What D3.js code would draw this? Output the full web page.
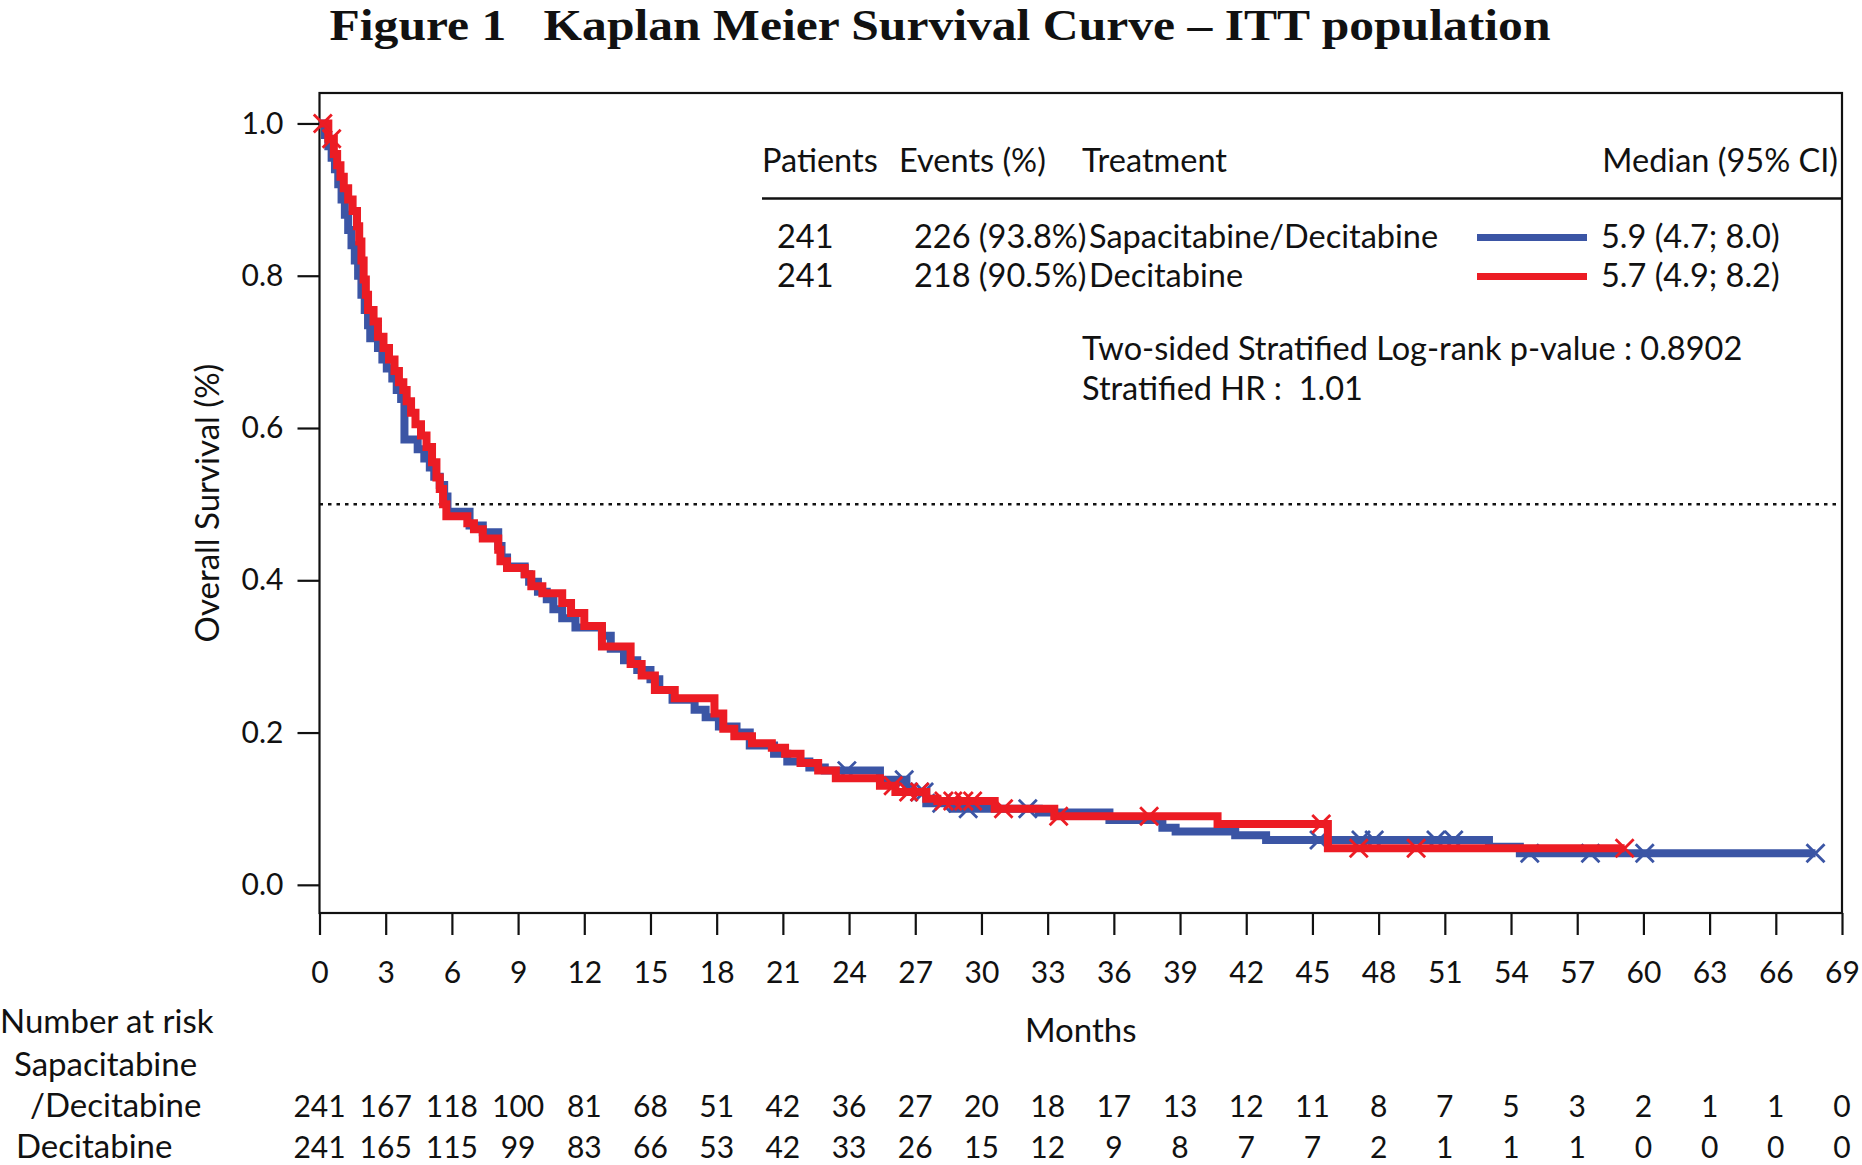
<!DOCTYPE html>
<html>
<head>
<meta charset="utf-8">
<script src="https://cdn.jsdelivr.net/npm/d3@7"></script>
<style>
  html, body { margin: 0; padding: 0; background: #ffffff; }
  svg { display: block; }
  text { font-family: Lato, "Open Sans", sans-serif; fill: #111; }
</style>
</head>
<body>
<div id="chart"></div>
<script>
// ---------------- data ----------------
const xTicks = [0,3,6,9,12,15,18,21,24,27,30,33,36,39,42,45,48,51,54,57,60,63,66,69];
const yTicks = [0, 0.2, 0.4, 0.6, 0.8, 1.0];

// Sapacitabine/Decitabine (blue) KM steps: time (months), survival
const blueTimes = [0,0.25,0.4,0.55,0.7,0.85,1.0,1.15,1.3,1.45,1.6,1.75,1.9,2.05,2.2,2.3,2.65,2.85,3.05,3.3,3.5,3.7,3.85,4.45,4.75,5.0,5.2,5.45,5.65,5.8,6.8,7.4,8.1,8.25,8.5,9.3,9.5,9.9,10.3,10.6,11.0,11.6,12.8,13.2,13.8,14.4,15.0,15.4,16.0,17.0,17.5,18.1,18.9,19.5,20.6,21.2,22.2,22.9,25.4,26.6,27.5,28.7,32.6,35.8,38.2,38.8,41.5,42.9,53.0,54.4];
const blueSurv  = [1.0,0.985,0.97,0.955,0.94,0.92,0.9,0.88,0.86,0.84,0.82,0.80,0.775,0.755,0.735,0.718,0.705,0.69,0.678,0.665,0.65,0.638,0.585,0.572,0.56,0.548,0.536,0.525,0.51,0.49,0.472,0.463,0.445,0.43,0.418,0.408,0.398,0.385,0.375,0.362,0.35,0.338,0.327,0.31,0.295,0.282,0.27,0.256,0.243,0.23,0.22,0.208,0.2,0.183,0.172,0.162,0.154,0.15,0.138,0.122,0.107,0.1,0.095,0.085,0.075,0.07,0.065,0.059,0.05,0.0415];
const blueLast = 67.8;
const blueCensor = [23.9,26.5,27.2,27.4,28.2,29.4,32.1,45.3,47.2,47.8,50.6,51.4,54.85,57.6,60.06,67.8];

// Decitabine (red) KM steps
const redTimes = [0,0.4,0.65,0.8,0.95,1.1,1.3,1.5,1.7,1.8,1.9,2.0,2.1,2.2,2.45,2.65,2.9,3.15,3.4,3.6,3.8,3.95,4.15,4.35,4.6,4.85,5.1,5.3,5.45,5.6,5.75,6.7,7.0,7.4,8.1,8.2,8.5,9.3,9.6,10.1,11.0,11.4,12.0,12.8,14.1,14.6,15.2,16.1,17.9,18.3,18.8,19.6,20.5,21.1,21.8,22.6,23.4,25.4,26.1,27.5,28.0,30.6,33.3,40.7,45.7];
const redSurv  = [1.0,0.98,0.96,0.945,0.93,0.915,0.9,0.885,0.865,0.845,0.82,0.795,0.775,0.755,0.74,0.72,0.705,0.69,0.675,0.66,0.65,0.635,0.62,0.605,0.59,0.575,0.555,0.535,0.52,0.5,0.484,0.475,0.467,0.455,0.44,0.425,0.416,0.408,0.392,0.383,0.37,0.357,0.34,0.313,0.29,0.275,0.256,0.245,0.225,0.205,0.195,0.186,0.18,0.172,0.16,0.15,0.14,0.13,0.122,0.113,0.11,0.1,0.09,0.08,0.048];
const redLast = 59.15;
const redCensor = [0.15,0.55,26.0,26.7,27.2,28.3,28.7,29.2,29.6,31.0,33.5,37.6,45.4,47.1,49.7,59.15];

// Number at risk
const riskSapDec = [241,167,118,100,81,68,51,42,36,27,20,18,17,13,12,11,8,7,5,3,2,1,1,0];
const riskDec    = [241,165,115,99,83,66,53,42,33,26,15,12,9,8,7,7,2,1,1,1,0,0,0,0];

// Legend table
const legendHeader = ["Patients", "Events (%)", "Treatment", "Median (95% CI)"];
const legendPatients = ["241", "241"];
const legendEvents = ["226 (93.8%)", "218 (90.5%)"];
const legendTreatment = ["Sapacitabine/Decitabine", "Decitabine"];
const legendMedian = ["5.9 (4.7; 8.0)", "5.7 (4.9; 8.2)"];
const statLines = ["Two-sided Stratified Log-rank p-value : 0.8902", "Stratified HR :  1.01"];

const colors = { blue: "#3b55a5", red: "#ec1c24" };

// ---------------- layout ----------------
const W = 1862, H = 1165;
const plot = { left: 319.5, right: 1842, top: 93, bottom: 913 };
const FN = 30;   // numeric labels
const FT = 33;   // word labels
const FL = 32.5; // legend text

const svg = d3.select("#chart").append("svg").attr("width", W).attr("height", H);

const x = d3.scaleLinear().domain([0, 69]).range([plot.left, plot.right]);
const y = d3.scaleLinear().domain([-0.037, 1.04]).range([plot.bottom, plot.top]);

// title
svg.append("text")
  .attr("x", 940).attr("y", 39.5)
  .attr("text-anchor", "middle")
  .attr("textLength", 1221)
  .attr("lengthAdjust", "spacingAndGlyphs")
  .style("font-family", "'Liberation Serif', 'Times New Roman', serif")
  .style("font-weight", "bold")
  .style("font-size", "44px")
  .style("white-space", "pre")
  .text("Figure 1   Kaplan Meier Survival Curve \u2013 ITT population");

// frame
svg.append("rect")
  .attr("x", plot.left).attr("y", plot.top)
  .attr("width", plot.right - plot.left).attr("height", plot.bottom - plot.top)
  .attr("fill", "none").attr("stroke", "#111").attr("stroke-width", 2.2);

// axes
const xAxis = d3.axisBottom(x).tickValues(xTicks).tickSize(22).tickPadding(12).tickFormat(d3.format("d"));
const gx = svg.append("g").attr("transform", `translate(0,${plot.bottom})`).call(xAxis);
gx.select(".domain").remove();
gx.selectAll(".tick line").attr("stroke", "#111").attr("stroke-width", 2.2);
gx.selectAll(".tick text").style("font-family", "Lato, sans-serif").style("font-size", FN + "px").attr("fill", "#111")
  .attr("dy", null).attr("y", 70);

const yAxis = d3.axisLeft(y).tickValues(yTicks).tickSize(22).tickPadding(14).tickFormat(d3.format(".1f"));
const gy = svg.append("g").attr("transform", `translate(${plot.left},0)`).call(yAxis);
gy.select(".domain").remove();
gy.selectAll(".tick line").attr("stroke", "#111").attr("stroke-width", 2.2);
gy.selectAll(".tick text").style("font-family", "Lato, sans-serif").style("font-size", FN + "px").attr("fill", "#111");

// axis titles
svg.append("text")
  .attr("transform", `translate(219,503) rotate(-90)`)
  .attr("text-anchor", "middle")
  .style("font-size", FT + "px")
  .text("Overall Survival (%)");
svg.append("text")
  .attr("x", (plot.left + plot.right) / 2).attr("y", 1042)
  .attr("text-anchor", "middle")
  .style("font-size", FT + "px")
  .text("Months");

// median reference line
svg.append("line")
  .attr("x1", x(0)).attr("x2", x(69)).attr("y1", y(0.5)).attr("y2", y(0.5))
  .attr("stroke", "#111").attr("stroke-width", 2.5).attr("stroke-dasharray", "3.5,5");

// KM curves
function stepPoints(times, surv, last) {
  const pts = times.map((t, i) => [t, surv[i]]);
  pts.push([last, surv[surv.length - 1]]);
  return pts;
}
function survAt(times, surv, t) {
  let v = surv[0];
  for (let i = 0; i < times.length; i++) { if (times[i] <= t) v = surv[i]; else break; }
  return v;
}
const line = d3.line().x(d => x(d[0])).y(d => y(d[1])).curve(d3.curveStepAfter);

const series = [
  { times: blueTimes, surv: blueSurv, last: blueLast, censor: blueCensor, color: colors.blue },
  { times: redTimes, surv: redSurv, last: redLast, censor: redCensor, color: colors.red }
];

const gCurves = svg.append("g");
series.forEach(s => {
  gCurves.append("path")
    .datum(stepPoints(s.times, s.surv, s.last))
    .attr("d", line)
    .attr("fill", "none")
    .attr("stroke", s.color)
    .attr("stroke-width", 8)
    .attr("stroke-linejoin", "miter");
  const half = 9;
  gCurves.append("g").selectAll("path")
    .data(s.censor)
    .join("path")
    .attr("d", t => {
      const cx = x(t), cy = y(survAt(s.times, s.surv, t));
      return `M${cx - half},${cy - half}L${cx + half},${cy + half}M${cx - half},${cy + half}L${cx + half},${cy - half}`;
    })
    .attr("stroke", s.color)
    .attr("stroke-width", 2.8)
    .attr("fill", "none");
});

// legend table
const lg = svg.append("g");
const colX = [762, 899, 1082];
legendHeader.slice(0, 3).forEach((h, i) => {
  lg.append("text").attr("x", colX[i]).attr("y", 172).style("font-size", FL + "px").text(h);
});
lg.append("text").attr("x", 1838).attr("y", 172).attr("text-anchor", "end").style("font-size", FL + "px").text(legendHeader[3]);
lg.append("line").attr("x1", 762).attr("x2", plot.right).attr("y1", 198.5).attr("y2", 198.5)
  .attr("stroke", "#111").attr("stroke-width", 2.5);

const rowY = [248, 287];
const rowColors = [colors.blue, colors.red];
rowY.forEach((ry, i) => {
  lg.append("text").attr("x", 777).attr("y", ry).style("font-size", FL + "px").text(legendPatients[i]);
  lg.append("text").attr("x", 914).attr("y", ry).style("font-size", FL + "px").text(legendEvents[i]);
  lg.append("text").attr("x", 1089).attr("y", ry).style("font-size", FL + "px").text(legendTreatment[i]);
  lg.append("line").attr("x1", 1477).attr("x2", 1587).attr("y1", ry - 10.5).attr("y2", ry - 10.5)
    .attr("stroke", rowColors[i]).attr("stroke-width", 7);
  lg.append("text").attr("x", 1601).attr("y", ry).style("font-size", FL + "px").text(legendMedian[i]);
});
statLines.forEach((s, i) => {
  lg.append("text").attr("x", 1082).attr("y", [360, 400][i]).style("font-size", FL + "px")
    .style("white-space", "pre").text(s);
});

// number at risk
const risk = svg.append("g");
risk.append("text").attr("x", 0).attr("y", 1033).style("font-size", FT + "px").text("Number at risk");
risk.append("text").attr("x", 14).attr("y", 1076).style("font-size", FT + "px").text("Sapacitabine");
risk.append("text").attr("x", 30).attr("y", 1117).style("font-size", FT + "px").text("/Decitabine");
risk.append("text").attr("x", 16).attr("y", 1158).style("font-size", FT + "px").text("Decitabine");
risk.append("g").selectAll("text").data(riskSapDec).join("text")
  .attr("x", (d, i) => x(xTicks[i])).attr("y", 1117).attr("text-anchor", "middle")
  .style("font-size", FN + "px").text(d => d);
risk.append("g").selectAll("text").data(riskDec).join("text")
  .attr("x", (d, i) => x(xTicks[i])).attr("y", 1158).attr("text-anchor", "middle")
  .style("font-size", FN + "px").text(d => d);
</script>
</body>
</html>
